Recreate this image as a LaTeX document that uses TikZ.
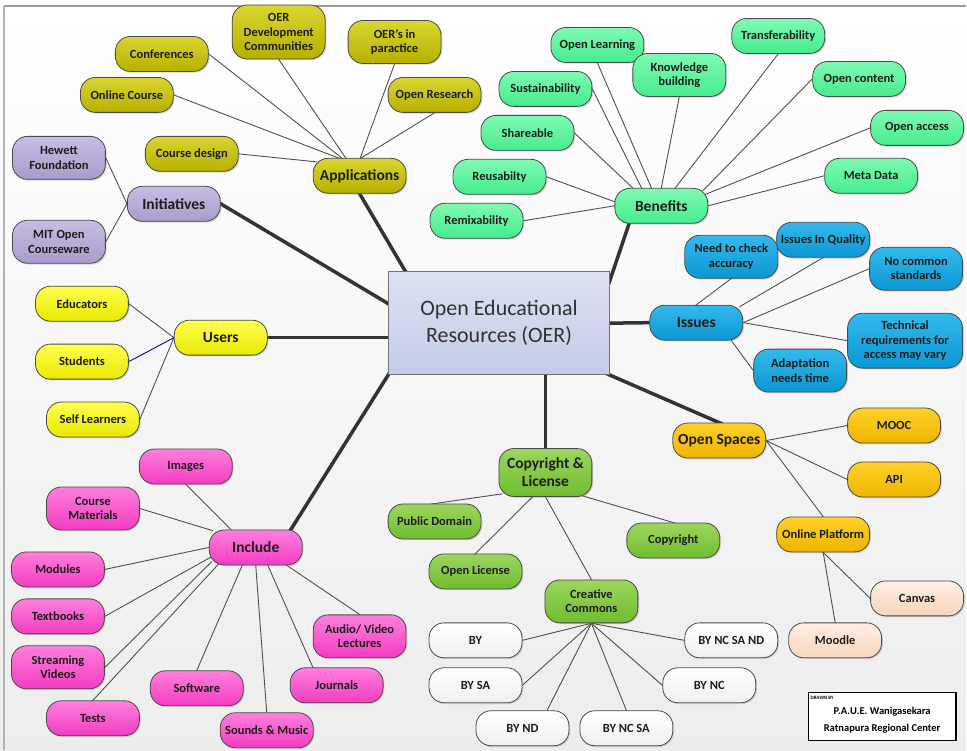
\documentclass[tikz,border=0pt]{standalone}
\usepackage{fontspec}
\setmainfont{Carlito}
\usetikzlibrary{shadows,calc}
\pgfdeclarelayer{back}
\pgfdeclarelayer{bg}
\pgfsetlayers{back,bg,main}
\definecolor{oliveT}{HTML}{DAD530}
\definecolor{oliveB}{HTML}{B6B000}
\definecolor{lavT}{HTML}{C6BCE3}
\definecolor{lavB}{HTML}{A99CCC}
\definecolor{yelT}{HTML}{FFFF50}
\definecolor{yelB}{HTML}{E8E800}
\definecolor{pinkT}{HTML}{FF80DD}
\definecolor{pinkB}{HTML}{F23CC0}
\definecolor{mintT}{HTML}{80FAB4}
\definecolor{mintB}{HTML}{45EC8C}
\definecolor{blueT}{HTML}{34B8EC}
\definecolor{blueB}{HTML}{0A97D4}
\definecolor{ambT}{HTML}{FFD12A}
\definecolor{ambB}{HTML}{EDB400}
\definecolor{grnT}{HTML}{9CD65E}
\definecolor{grnB}{HTML}{70BC30}
\definecolor{peachT}{HTML}{FFEEE2}
\definecolor{peachB}{HTML}{F8D6BC}
\definecolor{whT}{HTML}{FFFFFF}
\definecolor{whB}{HTML}{EFEFEF}
\definecolor{cenT}{HTML}{DCE1F3}
\definecolor{cenB}{HTML}{C3CBE6}
\definecolor{bordc}{HTML}{4A4A4A}
\definecolor{lnc}{HTML}{505050}
\definecolor{mainc}{HTML}{333333}
\definecolor{txtc}{HTML}{1C1C1C}
\tikzset{
  bub/.style={rounded corners=15pt, draw=bordc, line width=0.8pt,
    minimum width=93pt, minimum height=35pt, inner sep=0pt, align=center,
    text=txtc, font=\fontsize{12.5}{14.5}\selectfont\bfseries,
    drop shadow={shadow xshift=1.3pt, shadow yshift=-1.3pt, opacity=0.3}},
  hub/.style={bub, font=\fontsize{15.5}{18}\selectfont\bfseries},
  tall/.style={minimum height=43pt},
  olive/.style={top color=oliveT, bottom color=oliveB},
  lav/.style={top color=lavT, bottom color=lavB},
  yel/.style={top color=yelT, bottom color=yelB},
  pinkf/.style={top color=pinkT, bottom color=pinkB},
  mint/.style={top color=mintT, bottom color=mintB},
  bluef/.style={top color=blueT, bottom color=blueB},
  amb/.style={top color=ambT, bottom color=ambB},
  grn/.style={top color=grnT, bottom color=grnB},
  peach/.style={top color=peachT, bottom color=peachB},
  wh/.style={top color=whT, bottom color=whB},
  ln/.style={draw=lnc, line width=0.9pt, shorten <=-4pt, shorten >=-4pt},
  mainln/.style={draw=mainc, line width=3.5pt, shorten <=-4pt, shorten >=-4pt},
}
\begin{document}
\begin{tikzpicture}[x=1pt,y=-1pt]
\begin{pgfonlayer}{back}
\fill[top color=white, bottom color=black!7] (0,0) rectangle (967,751);
\draw[draw=black!40, line width=2pt] (4,6.5) -- (967,6.5);
\draw[draw=black!30, line width=1.5pt] (4,6.5) -- (4,751);
\end{pgfonlayer}
\useasboundingbox (0,0) rectangle (967,751);

% central
\node[draw=black!55, line width=0.9pt, top color=cenT, bottom color=cenB,
  minimum width=221pt, minimum height=103pt, inner sep=0pt, align=center,
  text=black!80, font=\fontsize{22}{27}\selectfont] (oer) at (499.5,323.5)
  {Open Educational\\Resources (OER)};

% Applications
\node[hub,olive] (app) at (360,176) {Applications};
\node[bub,olive] (conf) at (162,54) {Conferences};
\node[bub,olive,minimum height=54pt] (oerdev) at (279,32) {OER\\Development\\Communities};
\node[bub,olive,tall] (oerp) at (395,42) {OER’s in\\paractice};
\node[bub,olive] (onc) at (127,95) {Online Course};
\node[bub,olive] (ores) at (435,95) {Open Research};
\node[bub,olive] (cd) at (192,154) {Course design};

% Initiatives
\node[hub,lav] (ini) at (174,204) {Initiatives};
\node[bub,lav,tall] (hew) at (59,158) {Hewett\\Foundation};
\node[bub,lav,tall] (mit) at (59,242) {MIT Open\\Courseware};

% Users
\node[hub,yel] (users) at (221,338) {Users};
\node[bub,yel] (edu) at (82,304) {Educators};
\node[bub,yel] (stu) at (82,362) {Students};
\node[bub,yel] (sl) at (93,420) {Self Learners};

% Include
\node[hub,pinkf] (inc) at (256,548) {Include};
\node[bub,pinkf] (images) at (186,467) {Images};
\node[bub,pinkf,tall] (cm) at (93,509) {Course\\Materials};
\node[bub,pinkf] (mod) at (58,570) {Modules};
\node[bub,pinkf] (tb) at (58,617) {Textbooks};
\node[bub,pinkf,tall] (sv) at (58,668) {Streaming\\Videos};
\node[bub,pinkf] (tests) at (93,719) {Tests};
\node[bub,pinkf] (sw) at (197,689) {Software};
\node[bub,pinkf] (sm) at (267,731) {Sounds \& Music};
\node[bub,pinkf] (jr) at (337,686) {Journals};
\node[bub,pinkf,tall] (av) at (360,637) {Audio/ Video\\Lectures};

% Benefits
\node[hub,mint] (ben) at (662,206) {Benefits};
\node[bub,mint] (ol) at (598,45) {Open Learning};
\node[bub,mint,tall] (kb) at (680,75) {Knowledge\\building};
\node[bub,mint] (tr) at (779,36) {Transferability};
\node[bub,mint] (sus) at (546,89) {Sustainability};
\node[bub,mint] (oc) at (860,79) {Open content};
\node[bub,mint] (sh) at (528,133) {Shareable};
\node[bub,mint] (oa) at (918,128) {Open access};
\node[bub,mint] (reu) at (500,177) {Reusabilty};
\node[bub,mint] (md) at (872,176) {Meta Data};
\node[bub,mint] (rmx) at (477,221) {Remixability};

% Issues
\node[hub,bluef] (iss) at (697,323) {Issues};
\node[bub,bluef,tall] (nca) at (732,257) {Need to check\\accuracy};
\node[bub,bluef] (iq) at (824,240) {Issues In Quality};
\node[bub,bluef,tall] (ncs) at (917,269) {No common\\standards};
\node[bub,bluef,minimum width=115pt,minimum height=55pt] (tech) at (906,341) {Technical\\requirements for\\access may vary};
\node[bub,bluef,tall] (ad) at (801,371) {Adaptation\\needs time};

% Open Spaces
\node[hub,amb] (sp) at (720,441) {Open Spaces};
\node[bub,amb] (mooc) at (895,426) {MOOC};
\node[bub,amb] (api) at (895,480) {API};
\node[bub,amb] (op) at (824,535) {Online Platform};
\node[bub,peach] (canvas) at (918,599) {Canvas};
\node[bub,peach] (moodle) at (836,641) {Moodle};

% Copyright & License
\node[hub,grn,minimum height=48pt] (crl) at (546,473) {Copyright \&\\License};
\node[bub,grn] (pd) at (435,522) {Public Domain};
\node[bub,grn] (ol2) at (476,572) {Open License};
\node[bub,grn] (cr) at (674,541) {Copyright};
\node[bub,grn,tall] (cc) at (592,602) {Creative\\Commons};
\node[bub,wh] (by) at (476,641) {BY};
\node[bub,wh] (bysa) at (476,686) {BY SA};
\node[bub,wh] (bynd) at (523,729) {BY ND};
\node[bub,wh] (bncsa) at (627,729) {BY NC SA};
\node[bub,wh] (bync) at (710,686) {BY NC};
\node[bub,wh] (bncsand) at (732,641) {BY NC SA ND};

% credit
\node[draw=black, line width=1.3pt, fill=white, minimum width=148pt, minimum height=48pt, inner sep=0pt] (credit) at (883,717) {};
\node[anchor=north west, inner sep=0pt, font=\fontsize{5}{6}\selectfont\bfseries] (drawn) at ($(credit.north west)+(3,4)$) {DRAWN BY};
\node[inner sep=0pt, font=\fontsize{10.5}{12}\selectfont\bfseries] (cn1) at (883,712) {P.A.U.E. Wanigasekara};
\node[inner sep=0pt, font=\fontsize{10.5}{12}\selectfont\bfseries] (cn2) at (883,729) {Ratnapura Regional Center};

\begin{pgfonlayer}{bg}
% main branches
\draw[mainln] (app.south) -- (oer.151);
\draw[mainln] (ini.east) -- (oer.170.5);
\draw[mainln] (users.east) -- (users.east -| oer.west);
\draw[mainln] (oer.south west) -- (inc.27);
\draw[mainln] (oer.21.5) -- (ben.209);
\draw[mainln] (oer.east) -- (iss.west);
\draw[mainln] (oer.south east) -- (sp.north);
\draw[mainln] (crl.north |- oer.south) -- (crl.north);
% applications
\draw[ln] (conf.east) -- (app.135);
\draw[ln] (onc.east) -- (app.140);
\draw[ln] (oerdev.south) -- (app.128);
\draw[ln] (oerp.south) -- (app.88);
\draw[ln] (ores.south) -- (app.85);
\draw[ln] (cd.east) -- (app.163);
% initiatives
\draw[ln] (hew.east) -- (ini.west);
\draw[ln] (mit.east) -- (ini.west);
% users
\draw[ln] (edu.east) -- (users.west);
\draw[ln, draw=blue!85!black] (stu.east) -- (users.west);
\draw[ln] (sl.east) -- (users.west);
% include
\draw[ln] (images.south) -- (inc.144);
\draw[ln] (cm.east) -- (inc.159);
\draw[ln] (mod.east) -- (inc.west);
\draw[ln] (tb.east) -- (inc.193);
\draw[ln] (sv.east) -- (inc.200);
\draw[ln] (tests.north) -- (inc.205);
\draw[ln] (sw.north) -- (inc.233);
\draw[ln] (sm.north) -- (inc.south);
\draw[ln] (jr.143) -- (inc.304);
\draw[ln] (av.north) -- (inc.330);
% benefits
\draw[ln] (ol.south) -- (ben.119);
\draw[ln] (kb.south) -- (ben.north);
\draw[ln] (tr.south) -- (ben.52);
\draw[ln] (sus.east) -- (ben.138);
\draw[ln] (oc.west) -- (ben.22);
\draw[ln] (sh.east) -- (ben.148);
\draw[ln] (oa.west) -- (ben.15);
\draw[ln] (reu.east) -- (ben.175);
\draw[ln] (md.west) -- (ben.east);
\draw[ln] (rmx.east) -- (ben.west);
% issues
\draw[ln] (nca.south) -- (iss.north);
\draw[ln] (iq.south) -- (iss.21);
\draw[ln] (ncs.west) -- (iss.east);
\draw[ln] (tech.west) -- (iss.east);
\draw[ln] (ad.west) -- (iss.333);
% open spaces
\draw[ln] (mooc.west) -- (sp.east);
\draw[ln] (api.west) -- (sp.east);
\draw[ln] (op.north) -- (sp.east);
\draw[ln] (canvas.west) -- (op.south);
\draw[ln] (moodle.north) -- (op.south);
% copyright
\draw[ln] (pd.north) -- (crl.205);
\draw[ln] (ol2.north) -- (crl.242);
\draw[ln] (cc.north) -- (crl.south);
\draw[ln] (cr.north) -- (crl.329);
% creative commons
\draw[ln] (by.east) -- (cc.south);
\draw[ln] (bysa.east) -- (cc.south);
\draw[ln] (bynd.36) -- (cc.south);
\draw[ln] (bncsa.north) -- (cc.south);
\draw[ln] (bync.west) -- (cc.south);
\draw[ln] (bncsand.west) -- (cc.south);
\end{pgfonlayer}
\end{tikzpicture}
\end{document}
